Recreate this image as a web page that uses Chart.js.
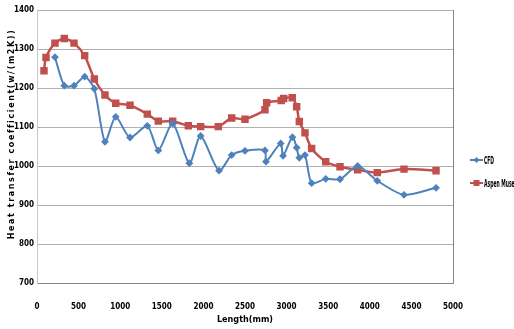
<!DOCTYPE html>
<html>
<head>
<meta charset="utf-8">
<script src="https://cdn.jsdelivr.net/npm/chart.js@4.4.0/dist/chart.umd.min.js"></script>
<style>
  body { margin: 0; background: #fff; }
  #wrap { position: relative; width: 514px; height: 329px; overflow: hidden; }
  .leg { position: absolute; left: 469px; font: bold 10px 'DejaVu Sans Condensed', 'Liberation Sans', sans-serif; color: #000; white-space: nowrap; }
  .leg b { display: inline-block; transform: scaleX(0.5); transform-origin: left center; vertical-align: middle; }
  .leg canvas { vertical-align: middle; }
</style>
</head>
<body>
<div id="wrap">
  <canvas id="heatChart" width="514" height="329"></canvas>
  <div class="leg" style="top:154px"><canvas id="legCfd" width="15" height="10"></canvas><b>CFD</b></div>
  <div class="leg" style="top:177px"><canvas id="legAspen" width="15" height="10"></canvas><b>Aspen Muse</b></div>
</div>
<script>
// length along the tube (mm)
const cfdLength = [216, 328, 445, 573, 689, 817, 946, 1118, 1326, 1458, 1631, 1831, 1967, 2188, 2340, 2500, 2740, 2752, 2929, 2957, 3070, 3121, 3153, 3221, 3301, 3470, 3642, 3854, 4090, 4411, 4796];
const cfdValues = [1279, 1206, 1206, 1229, 1198, 1062, 1126, 1073, 1103, 1040, 1109, 1007, 1077, 988, 1028, 1039, 1040, 1011, 1058, 1026, 1074, 1047, 1021, 1028, 956, 967, 966, 1000, 962, 926, 944];

const aspenLength = [84, 108, 216, 328, 445, 573, 689, 817, 946, 1118, 1326, 1458, 1631, 1819, 1967, 2179, 2340, 2500, 2740, 2760, 2935, 2965, 3068, 3121, 3153, 3221, 3301, 3470, 3642, 3854, 4090, 4411, 4796];
const aspenValues = [1244, 1278, 1315, 1327, 1315, 1283, 1223, 1182, 1161, 1156, 1133, 1115, 1115, 1103, 1101, 1101, 1123, 1120, 1144, 1162, 1168, 1173, 1175, 1152, 1114, 1085, 1045, 1011, 998, 990, 983, 992, 988];

const yTitle = 'Heat transfer coefficient(w/(m2K))';

const blue = '#4F81BD';
const red = '#C0504D';
const narrow = "'DejaVu Sans Condensed', 'Liberation Sans Narrow', 'Liberation Sans', sans-serif";
const tickFont = { family: narrow, size: 8, weight: 'bold' };

const toPoints = (xs, ys) => xs.map((x, i) => ({ x: x, y: ys[i] }));

// right edge of the plot box + spaced-out y title like the original
const extras = {
  id: 'extras',
  afterDraw(chart) {
    const { ctx, chartArea } = chart;
    ctx.save();
    ctx.strokeStyle = '#868686';
    ctx.lineWidth = 1;
    ctx.beginPath();
    ctx.moveTo(chartArea.right + 0.5, chartArea.top);
    ctx.lineTo(chartArea.right + 0.5, chartArea.bottom);
    ctx.stroke();

    ctx.translate(12, 134);
    ctx.rotate(-Math.PI / 2);
    ctx.font = "bold 8px 'DejaVu Sans'";
    ctx.letterSpacing = '1.6px';
    ctx.fillStyle = '#000';
    ctx.textAlign = 'center';
    ctx.textBaseline = 'middle';
    ctx.fillText(yTitle, 0, 0);
    ctx.restore();
  },
};

new Chart(document.getElementById('heatChart').getContext('2d'), {
  type: 'line',
  data: {
    datasets: [
      {
        label: 'CFD',
        data: toPoints(cfdLength, cfdValues),
        borderColor: blue,
        backgroundColor: blue,
        borderWidth: 2,
        pointStyle: 'rectRot',
        pointRadius: 2.5,
        tension: 0.25,
      },
      {
        label: 'Aspen Muse',
        data: toPoints(aspenLength, aspenValues),
        borderColor: red,
        backgroundColor: red,
        borderWidth: 2.5,
        pointStyle: 'rect',
        pointRadius: 3.5,
        tension: 0.25,
      },
    ],
  },
  options: {
    responsive: false,
    animation: false,
    layout: { padding: { top: 10, right: 61, left: 0 } },
    plugins: { legend: { display: false }, tooltip: { enabled: false } },
    scales: {
      x: {
        type: 'linear',
        min: 0,
        max: 5000,
        ticks: { stepSize: 500, color: '#000', font: tickFont, padding: 11, maxRotation: 0, callback: (v) => String(v) },
        grid: { display: false },
        border: { display: true, color: '#868686' },
        title: { display: true, text: 'Length(mm)', color: '#000', font: { family: narrow, size: 9, weight: 'bold' }, padding: { top: 8 } },
        afterFit(scale) { scale.height = 46; },
      },
      y: {
        min: 700,
        max: 1400,
        ticks: { stepSize: 100, color: '#000', font: tickFont, padding: 3, callback: (v) => String(v) },
        grid: { color: '#B0B0B0', drawTicks: false },
        border: { display: true, color: '#C8C8C8' },
        afterFit(scale) { scale.width = 37; },
      },
    },
  },
  plugins: [extras],
});

function legendMark(id, color, style) {
  const c = document.getElementById(id).getContext('2d');
  c.strokeStyle = color;
  c.fillStyle = color;
  c.lineWidth = 2;
  c.beginPath();
  c.moveTo(1, 5);
  c.lineTo(14, 5);
  c.stroke();
  if (style === 'rect') {
    c.fillRect(4.5, 2, 6, 6);
  } else {
    c.beginPath();
    c.moveTo(7.5, 2); c.lineTo(10.5, 5); c.lineTo(7.5, 8); c.lineTo(4.5, 5);
    c.closePath();
    c.fill();
  }
}
legendMark('legCfd', blue, 'rectRot');
legendMark('legAspen', red, 'rect');
</script>
</body>
</html>
